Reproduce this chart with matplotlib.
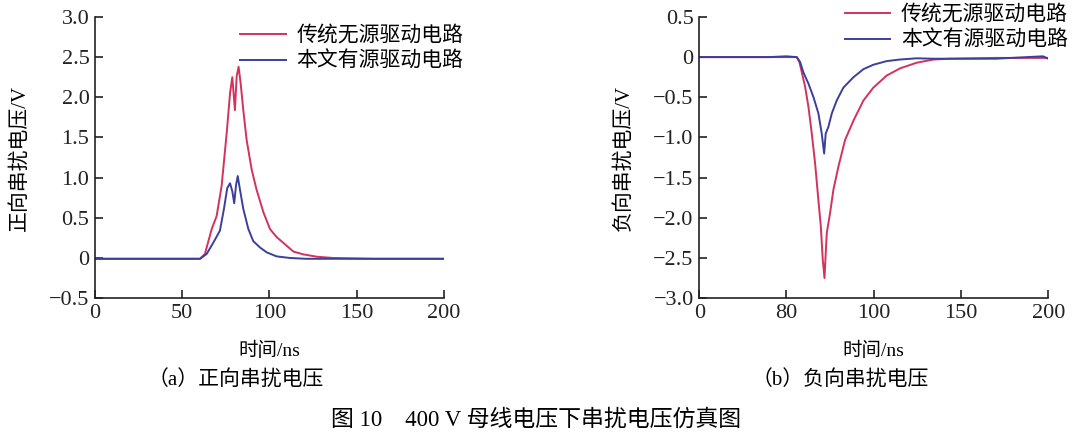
import matplotlib.pyplot as plt
from matplotlib.ticker import FixedLocator, FixedFormatter

plt.rcParams['font.family'] = ['Liberation Serif', 'Noto Sans CJK SC', 'DejaVu Sans']

RED = '#d2325c'
BLUE = '#3b3f9c'

# (a) positive crosstalk
a_t_red = [0, 20, 40, 60.2, 63.0, 66.9, 69.7, 72.6, 75.5, 77.4, 78.7, 80.2, 81.2, 82.3, 83.5, 85.0,
           86.9, 89.8, 92.6, 96.5, 100.3, 104.1, 108.9, 113.7, 119.4, 127, 136.6, 160, 180, 200]
a_v_red = [-0.01, -0.01, -0.01, -0.01, 0.05, 0.36, 0.52, 0.9, 1.56, 2.05, 2.25, 1.84, 2.26, 2.38, 2.17, 1.84,
           1.47, 1.10, 0.85, 0.57, 0.36, 0.26, 0.17, 0.08, 0.045, 0.016, 0.0, -0.01, -0.01, -0.01]
a_t_blue = [0, 20, 40, 60.2, 64, 67.8, 71.6, 73.9, 75.8, 77.4, 78.7, 79.8, 80.8, 81.8, 83.1, 85.0,
            87.9, 90.7, 94.6, 98.4, 104.1, 111.7, 121, 150, 180, 200]
a_v_blue = [-0.01, -0.01, -0.01, -0.01, 0.05, 0.19, 0.34, 0.61, 0.87, 0.93, 0.83, 0.68, 0.9, 1.02, 0.85, 0.61,
            0.36, 0.21, 0.13, 0.07, 0.02, 0.0, -0.01, -0.01, -0.01, -0.01]

# (b) negative crosstalk
b_t_red = [0, 20, 40, 55.9, 57.4, 58.8, 60.7, 62.6, 64.5, 66.4, 68.3, 69.7, 70.8, 71.8, 72.5, 73.1, 75.0,
           76.9, 79.8, 83.6, 88.4, 94.1, 99.8, 107.4, 115.1, 124.6, 134.2, 143.7, 170, 200]
b_v_red = [0.0, 0.0, 0.0, 0.0, -0.06, -0.19, -0.37, -0.62, -0.95, -1.32, -1.78, -2.11, -2.52, -2.75, -2.44, -2.19, -1.94,
           -1.65, -1.36, -1.03, -0.79, -0.54, -0.38, -0.23, -0.14, -0.07, -0.03, -0.02, -0.01, -0.01]
b_t_blue = [0, 20, 40, 50, 55.9, 57.8, 59.7, 62.6, 65.5, 68.3, 70.2, 71.6, 72.5, 74.0, 76.0, 78.8, 82.6,
            88.4, 94.1, 99.8, 107.4, 115.1, 124.6, 134, 170, 197, 200]
b_v_blue = [0.0, 0.0, 0.0, 0.01, 0.0, -0.06, -0.19, -0.33, -0.5, -0.70, -0.95, -1.2, -0.95, -0.87, -0.70, -0.54, -0.38,
            -0.25, -0.15, -0.095, -0.05, -0.03, -0.015, -0.02, -0.02, 0.01, -0.02]

a_yticks = [-0.5, 0, 0.5, 1.0, 1.5, 2.0, 2.5, 3.0]
a_ylabels = ['\u22120.5', '0', '0.5', '1.0', '1.5', '2.0', '2.5', '3.0']
b_yticks = [-3.0, -2.5, -2.0, -1.5, -1.0, -0.5, 0, 0.5]
b_ylabels = ['\u22123.0', '\u22122.5', '\u22122.0', '\u22121.5', '\u22121.0', '\u22120.5', '0', '0.5']
xticks = [0, 50, 100, 150, 200]
a_xlabels = ['0', '50', '100', '150', '200']
b_xlabels = ['0', '80', '100', '150', '200']

names = ['传统无源驱动电路', '本文有源驱动电路']

fig = plt.figure(figsize=(10.79, 4.34), dpi=100)
ax1 = fig.add_axes([0.088, 0.313, 0.3235, 0.648])
ax2 = fig.add_axes([0.648, 0.313, 0.3235, 0.648])


def style(ax, yticks, ylabels, xlabels, ylim, ylabel):
    for s in ['top', 'right']:
        ax.spines[s].set_visible(False)
    for s in ['left', 'bottom']:
        ax.spines[s].set_linewidth(1.2)
        ax.spines[s].set_color('#222222')
    ax.set_xlim(0, 200)
    ax.set_ylim(*ylim)
    ax.xaxis.set_major_locator(FixedLocator(xticks))
    ax.xaxis.set_major_formatter(FixedFormatter(xlabels))
    ax.yaxis.set_major_locator(FixedLocator(yticks))
    ax.yaxis.set_major_formatter(FixedFormatter(ylabels))
    ax.tick_params(direction='in', length=6, width=1.2, labelsize=16, colors='#222222', pad=4)
    ax.set_xlabel('时间/ns', fontsize=14, labelpad=14)
    ax.set_ylabel(ylabel, fontsize=15, labelpad=14)


ax1.plot(a_t_red, a_v_red, color=RED, lw=1.4, label=names[0])
ax1.plot(a_t_blue, a_v_blue, color=BLUE, lw=1.4, label=names[1])
style(ax1, a_yticks, a_ylabels, a_xlabels, (-0.5, 3.0), '正向串扰电压/V')
ax1.legend(loc='upper right', bbox_to_anchor=(1.08, 0.995), frameon=False, fontsize=15,
           handlelength=2.2, handletextpad=0.5, labelspacing=0.25, borderaxespad=0)

ax2.plot(b_t_red, b_v_red, color=RED, lw=1.4, label=names[0])
ax2.plot(b_t_blue, b_v_blue, color=BLUE, lw=1.4, label=names[1])
style(ax2, b_yticks, b_ylabels, b_xlabels, (-3.0, 0.5), '负向串扰电压/V')
ax2.legend(loc='upper right', bbox_to_anchor=(1.08, 1.07), frameon=False, fontsize=15,
           handlelength=2.2, handletextpad=0.5, labelspacing=0.25, borderaxespad=0)

fig.text(0.218, 1 - 380 / 434, '（a）正向串扰电压', ha='center', va='center', fontsize=15)
fig.text(0.779, 1 - 380 / 434, '（b）负向串扰电压', ha='center', va='center', fontsize=15)
fig.text(0.497, 1 - 420 / 434, '图 10　400 V 母线电压下串扰电压仿真图', ha='center', va='center', fontsize=16.5)

fig.savefig('out.png', dpi=100)
